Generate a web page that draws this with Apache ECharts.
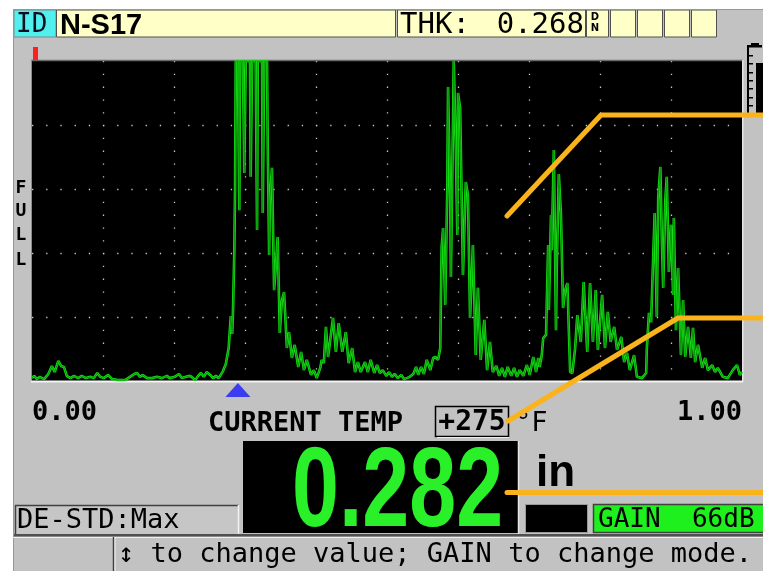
<!DOCTYPE html>
<html><head><meta charset="utf-8">
<script src="https://cdn.jsdelivr.net/npm/echarts@6/dist/echarts.min.js"></script>
<style>html,body{margin:0;padding:0;background:#fff}#c{width:763px;height:571px}</style>
</head><body><div id="c"></div>
<script>
// A-scan waveform: depth (in) vs amplitude (% of full screen)
const depth = [
0.000,0.003,0.007,0.011,0.017,0.023,0.028,0.032,0.037,0.041,
0.045,0.049,0.054,0.059,0.065,0.070,0.076,0.082,0.087,0.092,
0.096,0.101,0.107,0.113,0.121,0.131,0.138,0.144,0.148,0.152,
0.156,0.162,0.169,0.176,0.183,0.190,0.194,0.201,0.207,0.211,
0.217,0.223,0.230,0.234,0.238,0.242,0.246,0.251,0.255,0.259,
0.263,0.269,0.273,0.277,0.280,0.282,0.283,0.285,0.286,0.287,
0.290,0.292,0.293,0.297,0.299,0.301,0.307,0.308,0.310,0.315,
0.317,0.318,0.324,0.325,0.327,0.331,0.332,0.334,0.335,0.338,
0.341,0.344,0.346,0.349,0.352,0.355,0.359,0.362,0.366,0.370,
0.375,0.379,0.383,0.387,0.393,0.397,0.401,0.406,0.408,0.411,
0.414,0.417,0.420,0.424,0.428,0.432,0.437,0.442,0.446,0.451,
0.455,0.459,0.463,0.469,0.473,0.477,0.482,0.486,0.490,0.494,
0.499,0.503,0.507,0.511,0.515,0.520,0.524,0.528,0.532,0.537,
0.541,0.544,0.548,0.552,0.556,0.561,0.565,0.568,0.572,0.575,
0.576,0.577,0.579,0.582,0.585,0.586,0.589,0.590,0.593,0.594,
0.597,0.599,0.600,0.603,0.607,0.611,0.614,0.617,0.621,0.625,
0.628,0.632,0.637,0.641,0.645,0.649,0.654,0.658,0.662,0.666,
0.670,0.675,0.679,0.683,0.687,0.692,0.697,0.701,0.706,0.710,
0.713,0.715,0.718,0.720,0.724,0.727,0.728,0.731,0.732,0.735,
0.738,0.739,0.742,0.745,0.748,0.751,0.754,0.758,0.761,0.765,
0.768,0.773,0.777,0.782,0.786,0.790,0.794,0.797,0.803,0.807,
0.811,0.815,0.820,0.824,0.830,0.834,0.838,0.842,0.848,0.852,
0.859,0.865,0.866,0.869,0.872,0.875,0.877,0.880,0.882,0.885,
0.887,0.889,0.892,0.894,0.897,0.900,0.903,0.904,0.907,0.910,
0.914,0.917,0.920,0.924,0.928,0.931,0.934,0.938,0.944,0.948,
0.952,0.958,0.962,0.966,0.973,0.980,0.987,0.993,0.997,1.000];
const amplitude = [
0.9,1.6,0.6,1.3,0.6,2.2,4.7,2.8,6.3,4.7,
4.4,1.6,0.9,1.6,0.9,1.6,0.9,1.3,0.9,2.5,
1.3,0.9,1.9,0.6,0.3,0.3,1.3,2.2,2.5,1.3,
1.9,0.9,0.9,1.3,0.9,1.6,0.9,1.3,2.2,0.9,
1.3,1.6,0.3,1.6,2.5,1.3,2.8,1.9,0.9,1.6,
0.9,3.1,5.3,10.3,20.3,14.7,20.9,40.9,60.3,100,
100,53.4,100,100,65.0,100,100,63.8,100,100,
47.2,100,100,52.5,100,100,73.8,39.4,56.6,66.6,
28.4,37.8,45.0,15.0,25.3,27.8,10.3,15.3,7.2,11.3,
4.4,9.1,3.4,6.6,1.9,3.4,0.9,4.1,6.6,5.6,
16.9,7.5,12.8,19.7,9.1,18.1,9.1,15.3,5.6,10.3,
2.8,5.9,2.8,5.9,2.8,6.6,2.5,5.0,2.5,3.4,
1.6,2.8,1.3,2.2,0.9,1.9,0.6,0.9,1.3,2.2,
4.4,1.9,4.4,2.2,6.6,3.4,7.2,7.5,6.6,10.3,
26.9,41.9,47.8,23.8,61.3,91.9,56.6,32.5,81.6,100,
72.2,45.6,90.0,85.3,33.1,62.2,58.1,19.7,42.5,8.1,
29.1,6.6,19.1,3.4,12.2,2.8,4.7,1.6,4.1,1.3,
4.4,1.6,4.1,1.3,3.4,1.6,5.0,1.9,7.5,2.8,
7.2,4.4,8.1,13.4,14.4,42.5,22.2,51.9,40.9,72.2,
15.9,34.7,64.7,51.9,22.8,28.4,30.6,2.8,2.5,10.3,
20.6,12.2,30.9,9.1,30.6,12.2,28.4,9.7,26.9,10.3,
21.6,12.2,16.9,9.7,13.8,5.9,8.8,3.4,8.1,1.3,
0.9,2.5,10.3,21.3,18.4,39.4,52.5,20.0,57.2,66.9,
45.0,29.1,56.6,63.8,34.1,48.8,26.9,50.9,15.9,35.3,
8.1,25.3,7.5,16.9,7.2,16.6,5.9,11.3,4.1,7.2,
3.4,5.0,2.8,4.1,1.3,0.9,3.4,5.0,1.9,2.8];
const xEndLabels = ['0.00', '1.00'];
const gateMarker = [[0.290, -2.8]];
const headerTexts = ['ID', 'N-S17', 'THK:', '0.268'];
const readoutTexts = ['0.282', 'in', '+275', 'GAIN  66dB', 'DE-STD:Max'];
const statusText = ['\u2195 to change value; GAIN to change mode.'];

const MONO = '"DejaVu Sans Mono", monospace';
const SANS = '"Liberation Sans", Arial, sans-serif';
function R(x, y, w, h, fill, stroke, lw, z) {
  return {type: 'rect', silent: true, z: z == null ? 1 : z,
    shape: {x: x, y: y, width: w, height: h},
    style: {fill: fill, stroke: stroke || null, lineWidth: lw || 1}};
}
function L(x1, y1, x2, y2, stroke, lw, z) {
  return {type: 'line', silent: true, z: z == null ? 3 : z,
    shape: {x1: x1, y1: y1, x2: x2, y2: y2},
    style: {stroke: stroke, lineWidth: lw || 1}};
}
function T(x, y, text, font, fill, align, extra) {
  return Object.assign({type: 'text', silent: true, z: 5, x: x, y: y,
    style: {text: text, font: font, fill: fill || '#000', textAlign: align || 'left',
      textVerticalAlign: 'middle', verticalAlign: 'middle'}}, extra || {});
}
const G = [];
// outer white margin and device frame
G.push(R(0, 0, 763, 9, '#ffffff', null, 1, 0));
G.push(R(0, 0, 13, 571, '#ffffff', null, 1, 0));
G.push(L(13.5, 9, 13.5, 571, '#8a9aac', 1, 2));
G.push(L(13, 9.5, 763, 9.5, '#8a9aac', 1, 2));
// header bar
G.push(R(14, 10, 42, 27, '#52efef', '#7a8a8a', 1));
G.push(R(56.5, 10, 339, 27, '#ffffc8', '#505050', 1));
G.push(R(397.5, 10, 188, 27, '#ffffc8', '#505050', 1));
G.push(R(586.5, 10, 22, 27, '#ffffc8', '#505050', 1));
[610.5, 637.5, 664.5, 691.5].forEach(function (x) { G.push(R(x, 10, 25, 27, '#ffffc8', '#505050', 1)); });
G.push(T(16, 25, headerTexts[0], '26px ' + MONO, '#101020'));
G.push(T(60, 25.5, headerTexts[1], 'bold 29px ' + SANS, '#000'));
G.push(T(400, 25, headerTexts[2], '29px ' + MONO, '#000'));
G.push(T(584, 25, headerTexts[3], '29px ' + MONO, '#000', 'right'));
G.push(T(595, 17.5, 'D', 'bold 10px "DejaVu Sans"', '#000', 'center'));
G.push(T(595, 28.5, 'N', 'bold 10px "DejaVu Sans"', '#000', 'center'));
// red marker
G.push(R(33, 47, 5, 13, '#ff1f1f', null, 1));
// plot frame
G.push(L(31, 60.5, 743, 60.5, '#6a6a6a', 1.5));
G.push(L(31.5, 60, 31.5, 382, '#8a8a8a', 1));
G.push(L(31, 381.5, 743, 381.5, '#f4f4f4', 2));
G.push(L(742.8, 60, 742.8, 382, '#e6e6e6', 1.5));
// right meter
G.push(R(747, 45, 2, 70, '#000', null, 1));
G.push(R(747, 45, 15, 2.5, '#000', null, 1));
G.push(R(751, 43, 8, 2, '#000', null, 1));
[55, 63, 72, 80, 88, 97, 105].forEach(function (y) { G.push(R(749, y, 4, 1.5, '#000', null, 1)); });
G.push(R(756, 63, 7, 52, '#000', null, 1));
// FULL
['F', 'U', 'L', 'L'].forEach(function (ch, i) {
  G.push(T(21, [188, 211, 235, 260][i], ch, 'bold 18px ' + MONO, '#000', 'center'));
});
// temperature row
G.push(T(208, 424, 'CURRENT TEMP', 'bold 27px ' + MONO, '#000'));
G.push(R(435.5, 406.5, 73, 30, null, '#000', 1.5));
G.push(L(437, 437.5, 509, 437.5, '#f0f0f0', 1));
G.push(T(472, 423, readoutTexts[2], 'bold 28px ' + MONO, '#000', 'center'));
G.push(T(515, 424, '\u00b0F', '27px ' + MONO, '#000'));
// big readout
G.push(R(243, 441, 275, 92, '#000', null, 1));
G.push(L(518.5, 441, 518.5, 534, '#e6e6e6', 1.5));
G.push(T(292, 495, readoutTexts[0], 'bold 114px ' + SANS, '#2af02a', 'left', {scaleX: 0.74}));
G.push(T(536, 474, readoutTexts[1], 'bold 44px ' + SANS, '#000'));
G.push(R(525.5, 504.5, 62, 28, '#000', '#9a9a9a', 1));
G.push(R(593.5, 504.5, 172, 28, '#1df01d', '#404040', 1.5));
G.push(T(598, 520, readoutTexts[3], '26px ' + MONO, '#000'));
// DE-STD box
G.push(R(15.5, 505.5, 223, 28, '#c6c6c6', null, 1));
G.push(L(15.5, 505, 15.5, 534, '#404040', 1.5));
G.push(L(15, 505.5, 239, 505.5, '#404040', 1.5));
G.push(L(238.5, 505, 238.5, 534, '#f2f2f2', 1.5));
G.push(T(17, 521, readoutTexts[4], '27px ' + MONO, '#000'));
// status bar
G.push(R(13, 534, 750, 2.5, '#505050', null, 1));
G.push(L(13, 537.5, 763, 537.5, '#f0f0f0', 1));
G.push(L(113.5, 537, 113.5, 571, '#404040', 1.5));
G.push(L(115, 537, 115, 571, '#f0f0f0', 1));
G.push(T(118, 555, statusText[0], '27px ' + MONO, '#000'));
// orange callouts
[[[507, 216], [601, 115], [763, 115]],
 [[508, 421], [678, 318], [763, 318]],
 [[507, 492.5], [763, 492.5]]].forEach(function (pts) {
  G.push({type: 'polyline', silent: true, z: 60, shape: {points: pts},
    style: {stroke: '#fab31b', lineWidth: 5, lineCap: 'round', lineJoin: 'round', fill: null}});
});

const trace = depth.map(function (d, i) { return [d, amplitude[i]]; });
const chart = echarts.init(document.getElementById('c'), null, {renderer: 'canvas'});
chart.setOption({
  animation: false,
  backgroundColor: '#c2c2c2',
  grid: {left: 32, top: 61, width: 710, height: 320, show: true, backgroundColor: '#000', borderWidth: 0},
  xAxis: {
    type: 'value', min: 0, max: 1, interval: 0.1,
    axisLine: {show: false}, axisTick: {show: false},
    axisLabel: {
      show: true, interval: 0, margin: 18, color: '#000',
      fontFamily: 'DejaVu Sans Mono', fontWeight: 'bold', fontSize: 27,
      alignMinLabel: 'left', alignMaxLabel: 'right',
      formatter: function (v) { return Math.abs(v) < 1e-9 ? xEndLabels[0] : (Math.abs(v - 1) < 1e-9 ? xEndLabels[1] : ''); }
    },
    splitLine: {show: true, showMinLine: false, showMaxLine: false,
      lineStyle: {color: '#c8c8c8', width: 1.3, type: [1.3, 11.5]}}
  },
  yAxis: {
    type: 'value', min: 0, max: 100, interval: 20,
    axisLine: {show: false}, axisTick: {show: false}, axisLabel: {show: false},
    splitLine: {show: true, showMinLine: false, showMaxLine: false,
      lineStyle: {color: '#c8c8c8', width: 1.3, type: [1.3, 12.9]}}
  },
  series: [
    {type: 'line', data: trace, showSymbol: false, symbol: 'none', clip: true, z: 3,
      lineStyle: {color: '#14e014', width: 2.6}},
    {type: 'line', data: trace, showSymbol: false, symbol: 'none', clip: true, z: 3,
      lineStyle: {color: '#0a8a0a', width: 0.9}},
    {type: 'scatter', data: gateMarker, symbol: 'triangle', symbolSize: [25, 14],
      clip: false, z: 4, itemStyle: {color: '#1a1aff'}}
  ],
  graphic: {elements: G}
});
</script></body></html>
